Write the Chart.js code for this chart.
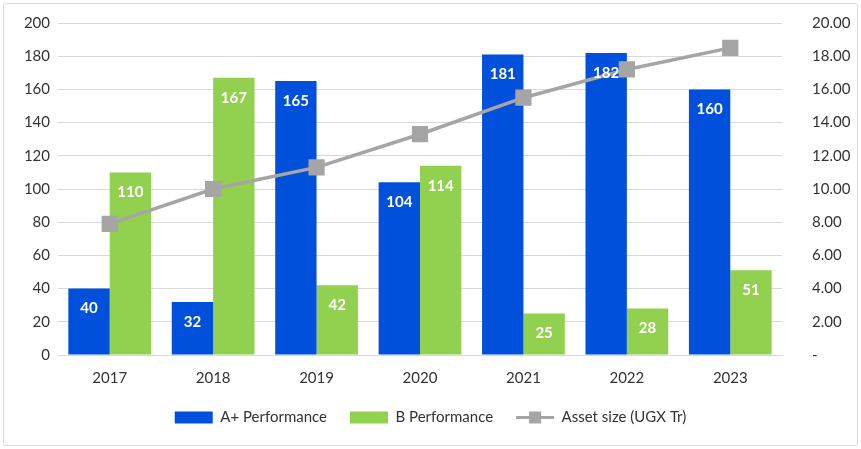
<!DOCTYPE html>
<html>
<head>
<meta charset="utf-8">
<script src="https://cdn.jsdelivr.net/npm/chart.js@4/dist/chart.umd.min.js"></script>
<style>
  html, body { margin: 0; padding: 0; background: #fff; }
  #wrap { position: relative; width: 861px; height: 449px; }
  #frame { position: absolute; left: 3px; top: 3px; right: 3px; bottom: 3px; border: 1px solid #d9d9d9; border-radius: 3px; pointer-events: none; }
</style>
</head>
<body>
<div id="wrap">
  <canvas id="chart" width="861" height="449"></canvas>
  <div id="frame"></div>
</div>
<script>
const years = ['2017', '2018', '2019', '2020', '2021', '2022', '2023'];
const aPlus = [40, 32, 165, 104, 181, 182, 160];
const bPerf = [110, 167, 42, 114, 25, 28, 51];
const assetSize = [7.9, 10.0, 11.3, 13.3, 15.5, 17.2, 18.5];

const blue = '#0050dc';
const green = '#92d050';
const grey = '#a5a5a5';
const font = 'Lato, "Open Sans", sans-serif';

// white value labels near the top of each bar
const barLabels = {
  id: 'barLabels',
  afterDatasetsDraw(chart) {
    const ctx = chart.ctx;
    ctx.save();
    ctx.fillStyle = '#fff';
    ctx.font = 'bold 15px ' + font;
    ctx.textAlign = 'center';
    ctx.textBaseline = 'middle';
    chart.data.datasets.forEach((ds, i) => {
      if (ds.type === 'line') return;
      chart.getDatasetMeta(i).data.forEach((bar, j) => {
        ctx.fillText(ds.data[j], bar.x, bar.y + 20);
      });
    });
    ctx.restore();
  }
};

// line + square marker in the legend for the line series
const legendLine = {
  id: 'legendLine',
  afterDraw(chart) {
    const lg = chart.legend;
    if (!lg || !lg.legendHitBoxes) return;
    const box = lg.legendHitBoxes[2];
    const ctx = chart.ctx;
    const cy = box.top + box.height / 2;
    const x0 = box.left, x1 = box.left + 38;
    ctx.save();
    ctx.strokeStyle = grey;
    ctx.lineWidth = 3;
    ctx.beginPath();
    ctx.moveTo(x0, cy);
    ctx.lineTo(x1, cy);
    ctx.stroke();
    ctx.fillStyle = grey;
    ctx.fillRect((x0 + x1) / 2 - 6, cy - 6, 12, 12);
    ctx.restore();
  }
};

new Chart(document.getElementById('chart'), {
  data: {
    labels: years,
    datasets: [
      {
        type: 'line',
        label: 'Asset size (UGX Tr)',
        data: assetSize,
        yAxisID: 'y1',
        borderColor: grey,
        backgroundColor: grey,
        borderWidth: 3.5,
        pointStyle: 'rect',
        pointRadius: 9,
        pointHoverRadius: 9,
        order: 0
      },
      {
        type: 'bar',
        label: 'A+ Performance',
        data: aPlus,
        yAxisID: 'y',
        backgroundColor: blue,
        categoryPercentage: 0.8,
        barPercentage: 1.0,
        order: 1
      },
      {
        type: 'bar',
        label: 'B Performance',
        data: bPerf,
        yAxisID: 'y',
        backgroundColor: green,
        categoryPercentage: 0.8,
        barPercentage: 1.0,
        order: 1
      }
    ]
  },
  options: {
    responsive: false,
    animation: false,
    layout: { padding: { top: 23, left: 0, right: 0, bottom: 14 } },
    plugins: {
      tooltip: { enabled: false },
      legend: {
        position: 'bottom',
        labels: {
          color: '#333',
          font: { family: font, size: 15 },
          boxWidth: 38,
          boxHeight: 12,
          padding: 23,
          sort: (a, b) => (a.datasetIndex === 0) - (b.datasetIndex === 0),
          generateLabels(chart) {
            const items = Chart.defaults.plugins.legend.labels.generateLabels(chart);
            items.forEach(it => {
              if (it.datasetIndex === 0) {
                it.fillStyle = 'rgba(0,0,0,0)';
                it.strokeStyle = 'rgba(0,0,0,0)';
              }
              it.lineWidth = 0;
            });
            return items;
          }
        }
      }
    },
    scales: {
      x: {
        grid: { display: false },
        border: { color: '#d9d9d9' },
        ticks: { color: '#333', font: { family: font, size: 15 }, padding: 6 },
        afterFit(scale) { scale.height = 32; }
      },
      y: {
        position: 'left',
        min: 0,
        max: 200,
        ticks: { stepSize: 20, color: '#333', font: { family: font, size: 15 }, padding: 8 },
        grid: { color: '#d9d9d9', drawTicks: false },
        border: { display: false },
        afterFit(scale) { scale.width = 58; }
      },
      y1: {
        position: 'right',
        min: 0,
        max: 20,
        ticks: {
          stepSize: 2,
          color: '#333',
          font: { family: font, size: 15 },
          padding: 30,
          callback: v => v === 0 ? '-' : v.toFixed(2)
        },
        grid: { display: false, drawTicks: false },
        border: { display: false },
        afterFit(scale) {
          scale.width = 79;
          scale.paddingTop = 9;
          scale.paddingBottom = 9;
        }
      }
    }
  },
  plugins: [barLabels, legendLine]
});
</script>
</body>
</html>
